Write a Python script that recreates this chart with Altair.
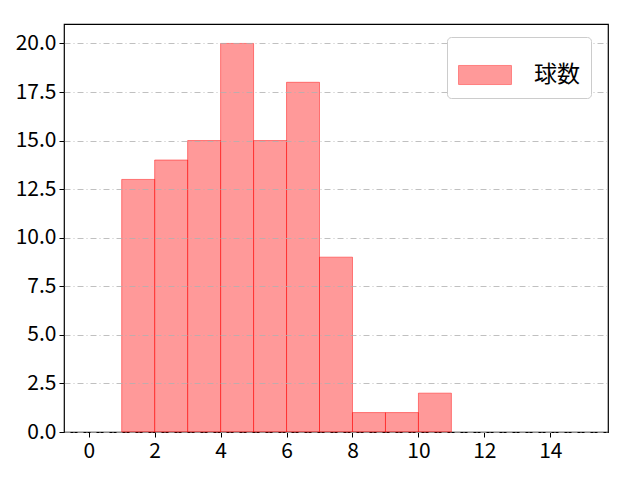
import altair as alt
import pandas as pd

bin_start = [1, 2, 3, 4, 5, 6, 7, 8, 9, 10]
bin_end = [2, 3, 4, 5, 6, 7, 8, 9, 10, 11]
counts = [13, 14, 15, 20, 15, 18, 9, 1, 1, 2]
series = ["球数"] * len(counts)

df = pd.DataFrame({"start": bin_start, "end": bin_end, "count": counts, "series": series})

FONT = "Noto Sans CJK JP"

bars = alt.Chart(df).mark_bar(
    fill="red", fillOpacity=0.4, stroke="red", strokeOpacity=0.45, strokeWidth=1
).encode(
    x=alt.X("start:Q", scale=alt.Scale(domain=[-0.75, 15.75], nice=False, zero=False),
            axis=alt.Axis(values=[0, 2, 4, 6, 8, 10, 12, 14], title=None, grid=False,
                          format="d", labelFontSize=21, labelFont=FONT, labelColor="black",
                          tickColor="black", tickSize=5, labelPadding=3, domain=False)),
    x2="end:Q",
    y=alt.Y("count:Q", scale=alt.Scale(domain=[0, 21], nice=False),
            axis=alt.Axis(values=[0, 2.5, 5, 7.5, 10, 12.5, 15, 17.5, 20], format=".1f",
                          title=None, grid=True, gridColor="#b0b0b0", gridDash=[6, 3, 1, 3],
                          gridWidth=0.8, labelFontSize=21, labelFont=FONT, labelColor="black",
                          tickColor="black", tickSize=5, labelPadding=3, domain=False,
                          zindex=1)),
    y2=alt.datum(0),
    color=alt.Color("series:N", scale=alt.Scale(range=["#ff9999"]),
                    legend=alt.Legend(title=None, orient="none", legendX=383, legendY=13,
                                      symbolType="M-1,-0.36H1V0.36H-1Z", symbolSize=2800,
                                      symbolFillColor="#ff9999", symbolStrokeColor="#ff8080",
                                      symbolStrokeWidth=1, symbolOpacity=1,
                                      labelFontSize=23, labelFont=FONT, labelColor="black",
                                      labelOffset=22, padding=11, strokeColor="#cccccc",
                                      fillColor="white", cornerRadius=4, zindex=2)),
)

chart = bars.properties(
    width=544, height=408,
    background="white",
    autosize=alt.AutoSizeParams(type="none"),
    padding={"left": 56, "top": 16, "right": 20, "bottom": 48},
).configure_view(stroke="black", strokeWidth=1.2)

chart.save("out.html", embed_options={"renderer": "svg", "actions": False})
